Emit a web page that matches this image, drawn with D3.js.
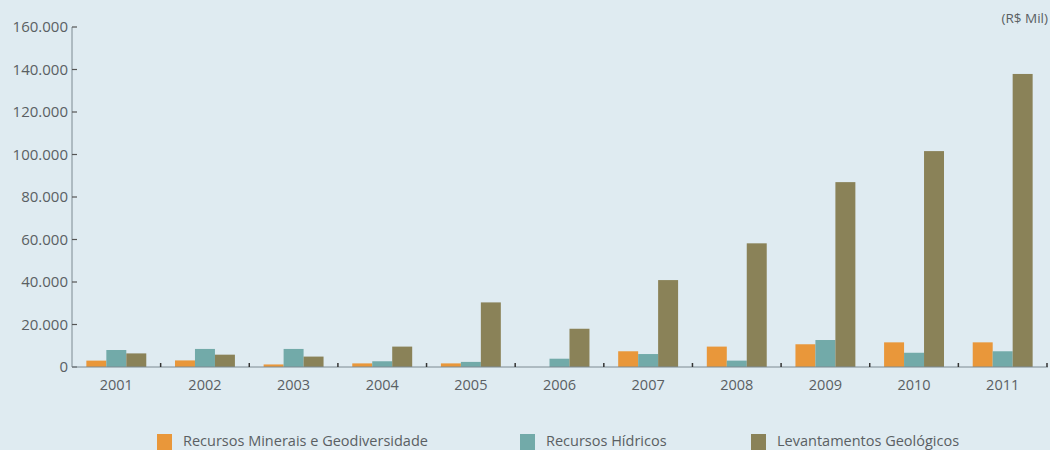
<!DOCTYPE html>
<html><head><meta charset="utf-8">
<script src="https://cdn.jsdelivr.net/npm/d3@7"></script>
<style>
html,body{margin:0;padding:0;background:#dfebf1;}
svg{display:block;font-family:"Open Sans",sans-serif;}
</style></head>
<body>
<svg id="chart" width="1050" height="450"></svg>
<script>
const years = ["2001","2002","2003","2004","2005","2006","2007","2008","2009","2010","2011"];
const seriesNames = ["Recursos Minerais e Geodiversidade","Recursos Hídricos","Levantamentos Geológicos"];
const recursosMinerais = [3000, 3100, 1200, 1700, 1700, 0, 7400, 9600, 10700, 11600, 11600];
const recursosHidricos = [8000, 8500, 8500, 2700, 2400, 3900, 6100, 3000, 12700, 6700, 7400];
const levantamentos = [6400, 5800, 4900, 9600, 30400, 18000, 40900, 58200, 87000, 101600, 137900];
const yTicks = [0, 20000, 40000, 60000, 80000, 100000, 120000, 140000, 160000];
const colors = ["#e9973a", "#72aaa9", "#8a8258"];

(function () {
const svg = d3.select("#chart");
const mLeft = 72, mRight = 1047, mTop = 27, mBottom = 367;

const x0 = d3.scaleBand().domain(years).range([mLeft, mRight]).paddingInner(0.324).paddingOuter(0.162);
const x1 = d3.scaleBand().domain(d3.range(3)).range([0, x0.bandwidth()]);
const y = d3.scaleLinear().domain([0, 160000]).range([mBottom, mTop]);

const series = [recursosMinerais, recursosHidricos, levantamentos];

const g = svg.append("g");
years.forEach((yr, i) => {
  series.forEach((s, k) => {
    if (s[i] > 0) {
      g.append("rect")
        .attr("x", x0(yr) + x1(k))
        .attr("y", y(s[i]))
        .attr("width", x1.bandwidth())
        .attr("height", y(0) - y(s[i]))
        .attr("fill", colors[k]);
    }
  });
});

const fmt = v => v === 0 ? "0" : d3.format(",")(v).replace(/,/g, ".");
svg.append("line").attr("x1", mLeft).attr("x2", mLeft).attr("y1", y(160000)).attr("y2", y(0))
  .attr("stroke", "#7d8a92").attr("stroke-width", 1);
yTicks.forEach(t => {
  svg.append("line").attr("x1", mLeft).attr("x2", mLeft + 5).attr("y1", y(t)).attr("y2", y(t))
    .attr("stroke", "#555").attr("stroke-width", 1.2);
  svg.append("text").attr("x", mLeft - 4).attr("y", y(t)).attr("dy", "0.36em")
    .attr("text-anchor", "end").attr("font-size", 15).attr("fill", "#5a5f63").text(fmt(t));
});

svg.append("line").attr("x1", mLeft).attr("x2", mRight + 1).attr("y1", y(0)).attr("y2", y(0))
  .attr("stroke", "#7d8a92").attr("stroke-width", 1);
const step = x0.step();
years.forEach((yr) => {
  const bx = x0(yr) - x0.paddingOuter() * step + step;
  svg.append("line").attr("x1", bx).attr("x2", bx).attr("y1", y(0) - 4).attr("y2", y(0))
    .attr("stroke", "#333").attr("stroke-width", 1.5);
  svg.append("text").attr("x", x0(yr) + x0.bandwidth() / 2).attr("y", 390)
    .attr("text-anchor", "middle").attr("font-size", 14.5).attr("fill", "#5a5f63").text(yr);
});

svg.append("text").attr("x", 1048).attr("y", 23).attr("text-anchor", "end")
  .attr("font-size", 13.5).attr("fill", "#5a5f63").text("(R$ Mil)");

const legendX = [157, 520, 751];
seriesNames.forEach((n, k) => {
  svg.append("rect").attr("x", legendX[k]).attr("y", 434).attr("width", 15).attr("height", 16).attr("fill", colors[k]);
  svg.append("text").attr("x", legendX[k] + 26).attr("y", 446).attr("font-size", 14.5)
    .attr("fill", "#5a5f63").text(n);
});
})();
</script>
</body></html>
